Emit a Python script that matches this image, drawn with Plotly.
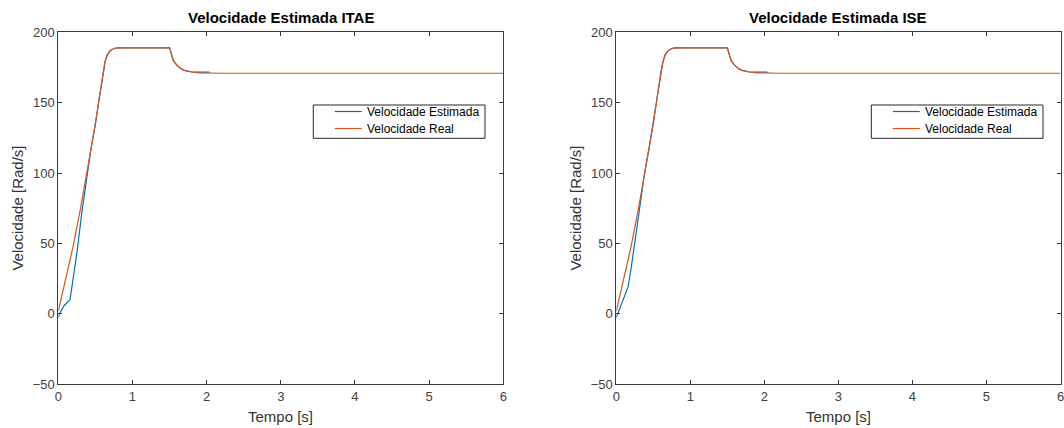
import plotly.graph_objects as go

# Real speed (shared by both controllers)
t_real = [0, 0.1, 0.2, 0.3, 0.4, 0.45, 0.5, 0.55, 0.6, 0.63, 0.66, 0.7, 0.75, 0.8,
          1.5, 1.52, 1.55, 1.6, 1.65, 1.7, 1.8, 1.9, 2.0, 2.2, 6.0]
v_real = [2, 25, 48, 75, 104, 119, 135, 153, 171, 179, 184, 187, 188.5, 189,
          189, 185, 180, 176.5, 174.3, 173, 171.8, 171.2, 171, 170.9, 170.9]

# Estimated speed, ITAE tuning
t_est_itae = [0, 0.02, 0.08, 0.158, 0.18, 0.25, 0.315, 0.383, 0.44, 0.5, 0.55, 0.6,
              0.63, 0.66, 0.7, 0.75, 0.8, 1.5, 1.52, 1.55, 1.6, 1.65, 1.7, 1.8,
              1.9, 2.04]
v_est_itae = [-2.5, 0.5, 6, 10, 18, 43, 71, 98, 117, 135, 153, 171,
              179, 184, 187, 188.5, 189, 189, 185, 180, 176.5, 174.3, 173, 171.8,
              171.7, 171.7]

# Estimated speed, ISE tuning
t_est_ise = [0, 0.067, 0.158, 0.202, 0.247, 0.315, 0.382, 0.44, 0.5, 0.55, 0.6,
             0.63, 0.66, 0.7, 0.75, 0.8, 1.5, 1.52, 1.55, 1.6, 1.65, 1.7, 1.8,
             1.9, 2.04]
v_est_ise = [-2.5, 7, 19, 33, 50, 76, 100, 117, 135, 153, 171,
             179, 184, 187, 188.5, 189, 189, 185, 180, 176.5, 174.3, 173, 171.8,
             171.7, 171.7]

titles = ["Velocidade Estimada ITAE", "Velocidade Estimada ISE"]
series_names = ["Velocidade Estimada", "Velocidade Real"]
x_ticks = [0, 1, 2, 3, 4, 5, 6]
y_ticks = [-50, 0, 50, 100, 150, 200]

BLUE = "#0072BD"
ORANGE = "#D95319"
AXC = "#3a3a3a"
FONT = "Liberation Sans, Arial, sans-serif"

W, H = 1064, 428
# plot areas in pixels: (left, right), (top, bottom)
areas = [(58.3, 503.3), (616.3, 1060.5)]
top_px, bot_px = 32.3, 384.3


def px(x):
    return x / W


def py(y):
    return 1 - y / H


fig = go.Figure()

series = [(t_est_itae, v_est_itae), (t_est_ise, v_est_ise)]
for i, (te, ve) in enumerate(series):
    ax = "" if i == 0 else "2"
    fig.add_trace(go.Scatter(x=te, y=ve, mode="lines", name=series_names[0],
                             line=dict(color=BLUE, width=1.2), showlegend=False,
                             xaxis="x" + ax, yaxis="y" + ax))
    fig.add_trace(go.Scatter(x=t_real, y=v_real, mode="lines", name=series_names[1],
                             line=dict(color=ORANGE, width=1.2), showlegend=False,
                             xaxis="x" + ax, yaxis="y" + ax))

ydom = [py(bot_px), py(top_px)]
axis_common = dict(showline=True, linecolor=AXC, linewidth=1, mirror="ticks",
                   ticks="inside", ticklen=4, tickcolor=AXC, showgrid=False,
                   zeroline=False, automargin=False, ticklabeloverflow="allow",
                   tickfont=dict(family=FONT, size=13, color="#404040"))

layout = dict(width=W, height=H, margin=dict(l=0, r=0, t=0, b=0, autoexpand=False),
              plot_bgcolor="white", paper_bgcolor="white",
              font=dict(family=FONT), showlegend=False)

annotations = []
shapes = []
for i, (l, r) in enumerate(areas):
    ax = "" if i == 0 else "2"
    layout["xaxis" + ax] = dict(domain=[px(l), px(r)], range=[0, 6], tickvals=x_ticks,
                                anchor="y" + ax, **axis_common)
    layout["yaxis" + ax] = dict(domain=ydom, range=[-50, 200], tickvals=y_ticks,
                                anchor="x" + ax, **axis_common)
    cx = px((l + r) / 2)
    annotations.append(dict(text="<b>" + titles[i] + "</b>", x=cx, y=py(17.5),
                            xref="paper", yref="paper", showarrow=False,
                            xanchor="center", yanchor="middle",
                            font=dict(family=FONT, size=15, color="#000000")))
    annotations.append(dict(text="Tempo [s]", x=cx, y=py(416),
                            xref="paper", yref="paper", showarrow=False,
                            xanchor="center", yanchor="middle",
                            font=dict(family=FONT, size=15, color="#333333")))
    annotations.append(dict(text="Velocidade [Rad/s]", x=px(l - 41),
                            y=py((top_px + bot_px) / 2),
                            xref="paper", yref="paper", showarrow=False, textangle=-90,
                            xanchor="center", yanchor="middle",
                            font=dict(family=FONT, size=15, color="#333333")))

    # legend box with line samples
    lx0, lx1, ly0, ly1 = l + 255, l + 426.7, 105, 138.3
    shapes.append(dict(type="rect", xref="paper", yref="paper",
                       x0=px(lx0), x1=px(lx1), y0=py(ly1), y1=py(ly0),
                       line=dict(color="#262626", width=1), fillcolor="white",
                       layer="above"))
    for k, (name, col, yy) in enumerate([(series_names[0], BLUE, 111.5),
                                         (series_names[1], ORANGE, 128.5)]):
        shapes.append(dict(type="line", xref="paper", yref="paper",
                           x0=px(lx0 + 21.5), x1=px(lx0 + 48.5), y0=py(yy), y1=py(yy),
                           line=dict(color=col, width=1.2), layer="above"))
        annotations.append(dict(text=name, x=px(lx0 + 52), y=py(yy),
                                xref="paper", yref="paper", showarrow=False,
                                xanchor="left", yanchor="middle",
                                font=dict(family=FONT, size=12, color="#000000")))

layout["annotations"] = annotations
layout["shapes"] = shapes
fig.update_layout(**layout)
fig.write_html("out.html")
